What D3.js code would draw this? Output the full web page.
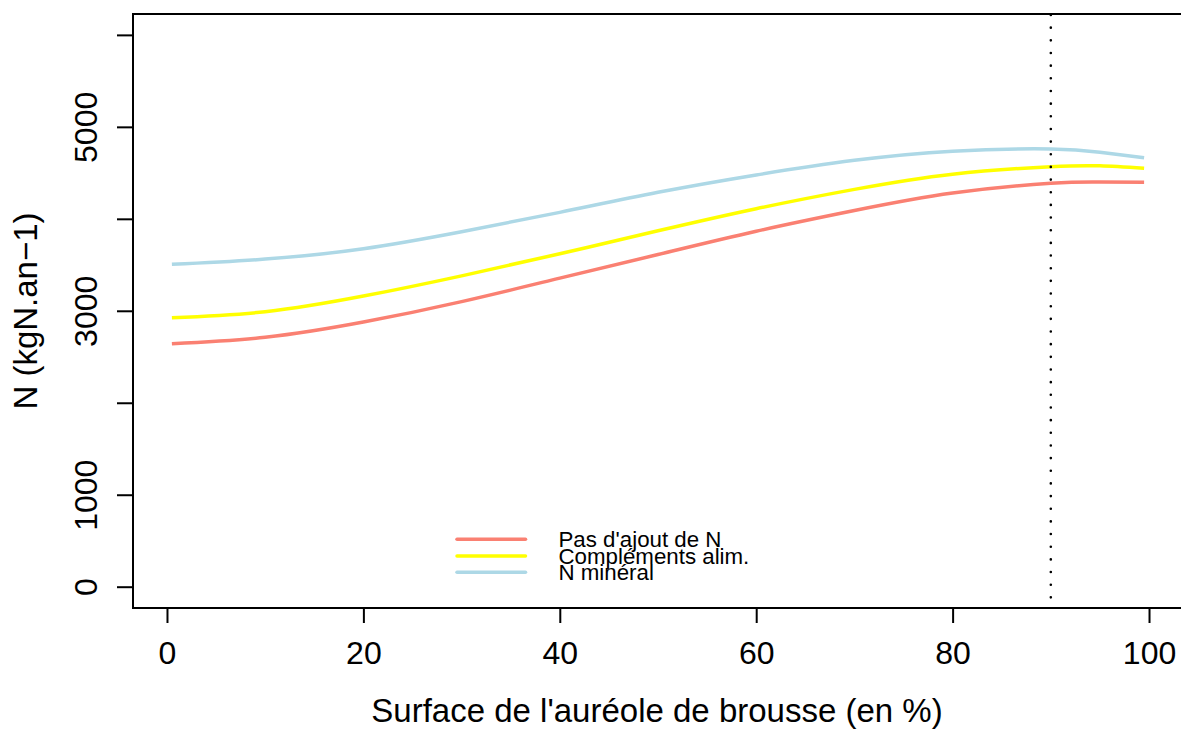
<!DOCTYPE html>
<html>
<head>
<meta charset="utf-8">
<script src="https://cdn.jsdelivr.net/npm/d3@7"></script>
<style>
  html, body { margin: 0; padding: 0; background: #fff; }
  svg { display: block; font-family: "Liberation Sans", Arial, Helvetica, sans-serif; }
</style>
</head>
<body>
<svg id="chart" width="1181" height="729"></svg>
<script>
// ---- data ----
const xValues = [0.5, 10, 20, 30, 40, 50, 60, 70, 80, 90, 95, 99.5];
const pasAjout   = [2642, 2712, 2878, 3100, 3355, 3612, 3865, 4090, 4280, 4386, 4400, 4397];
const complements = [2925, 2990, 3160, 3380, 3620, 3870, 4110, 4320, 4485, 4567, 4576, 4549];
const nMineral   = [3505, 3562, 3675, 3860, 4070, 4288, 4477, 4636, 4736, 4760, 4725, 4665];
const seriesNames = ["Pas d'ajout de N", "Compléments alim.", "N minéral"];
const seriesColors = ["#FA8072", "#FFFF00", "#ADD8E6"];
const xTicks = [0, 20, 40, 60, 80, 100];
const yTicks = [0, 1000, 2000, 3000, 4000, 5000, 6000];
const yTickLabels = ["0", "1000", "", "3000", "", "5000", ""];
const vLineX = 90;
const xLabel = "Surface de l'auréole de brousse (en %)";
const yLabel = "N (kgN.an\u22121)";

// ---- layout ----
const svg = d3.select("#chart");
const mLeft = 133, mTop = 14, mBottom = 608, mRight = 1183;

const x = d3.scaleLinear().domain([-3.46, 103.46]).range([mLeft, mRight]);
const y = d3.scaleLinear().domain([-231.6, 6227]).range([mBottom, mTop]);

// curves
const seriesData = [pasAjout, complements, nMineral];
const line = d3.line()
  .x(d => x(d[0]))
  .y(d => y(d[1]))
  .curve(d3.curveNatural);

seriesData.forEach((vals, i) => {
  svg.append("path")
    .datum(xValues.map((xv, j) => [xv, vals[j]]))
    .attr("d", line)
    .attr("fill", "none")
    .attr("stroke", seriesColors[i])
    .attr("stroke-width", 3.5);
});

// vertical dotted line
svg.append("line")
  .attr("x1", x(vLineX)).attr("x2", x(vLineX))
  .attr("y1", mTop + 1).attr("y2", mBottom)
  .attr("stroke", "#000")
  .attr("stroke-width", 2.6)
  .attr("stroke-linecap", "round")
  .attr("stroke-dasharray", "0.01 12.65");

// box
svg.append("rect")
  .attr("x", mLeft).attr("y", mTop)
  .attr("width", mRight - mLeft).attr("height", mBottom - mTop)
  .attr("fill", "none").attr("stroke", "#000").attr("stroke-width", 2);

// x axis
const xAxis = svg.append("g")
  .attr("transform", `translate(0,${mBottom})`)
  .call(d3.axisBottom(x).tickValues(xTicks).tickSize(15).tickFormat(d3.format("d")));
xAxis.select(".domain").remove();
xAxis.selectAll(".tick line").attr("stroke", "#000").attr("stroke-width", 2);
xAxis.selectAll(".tick text")
  .attr("y", 56).attr("dy", 0)
  .attr("font-size", 32).attr("fill", "#000")
  .attr("font-family", "Liberation Sans, Arial, Helvetica, sans-serif");

// y axis
const yAxis = svg.append("g")
  .attr("transform", `translate(${mLeft},0)`)
  .call(d3.axisLeft(y).tickValues(yTicks).tickSize(16).tickFormat((d, i) => yTickLabels[i]));
yAxis.select(".domain").remove();
yAxis.selectAll(".tick line").attr("stroke", "#000").attr("stroke-width", 2);
yAxis.selectAll(".tick text")
  .attr("x", 0).attr("y", -36).attr("dy", 0)
  .attr("transform", "rotate(-90)")
  .attr("text-anchor", "middle")
  .attr("font-size", 32).attr("fill", "#000")
  .attr("font-family", "Liberation Sans, Arial, Helvetica, sans-serif");

// axis titles
svg.append("text")
  .attr("x", 657).attr("y", 722)
  .attr("text-anchor", "middle")
  .attr("font-size", 33)
  .text(xLabel);

svg.append("text")
  .attr("transform", `translate(37,${(mTop + mBottom) / 2}) rotate(-90)`)
  .attr("text-anchor", "middle")
  .attr("font-size", 33)
  .text(yLabel);

// legend
const legY = [539.3, 556, 572.3];
seriesNames.forEach((name, i) => {
  svg.append("line")
    .attr("x1", 457).attr("x2", 525.5)
    .attr("y1", legY[i]).attr("y2", legY[i])
    .attr("stroke", seriesColors[i])
    .attr("stroke-width", 3.5)
    .attr("stroke-linecap", "round");
  svg.append("text")
    .attr("x", 558.5).attr("y", legY[i] + 8)
    .attr("font-size", 22.3)
    .attr("fill", "#000")
    .text(name);
});
</script>
</body>
</html>
